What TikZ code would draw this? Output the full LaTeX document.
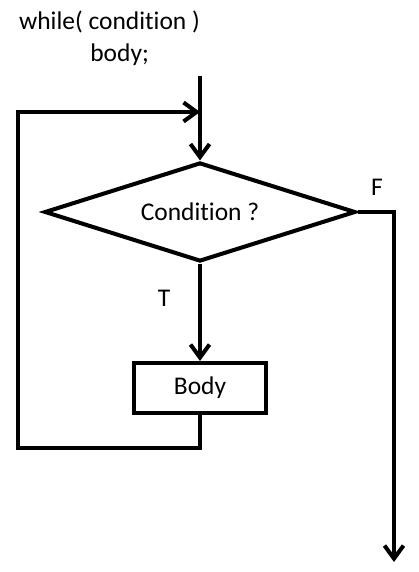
\documentclass[tikz,border=0pt]{standalone}
\usepackage{fontspec}
\setmainfont{Carlito}[Ligatures=NoCommon]
\usetikzlibrary{arrows.meta,shapes.geometric,positioning}

\tikzset{
  flow/.style={line width=2.3pt,line join=miter},
  arr/.style={flow,-{Straight Barb[length=2.6mm,width=3.8mm]}},
  lbl/.style={inner sep=0pt,font=\fontsize{14.5}{17}\selectfont}
}

\begin{document}
\begin{tikzpicture}[x=1cm,y=1cm]
  \useasboundingbox (0,0) rectangle (8.38,11.44);
  \node[lbl] (code1) at (2.19,11.0) {while( condition )};
  \node[lbl,anchor=west] (code2) at (1.80,10.34) {body;};

  \coordinate (start) at (4.0,9.92);
  \coordinate (join) at (4.0,9.2);
  \node[flow,draw,diamond,aspect=3.14,minimum width=6.22cm,minimum height=1.98cm,inner sep=0pt,lbl] (cond) at (4.0,7.20) {Condition ?};
  \node[flow,draw,rectangle,minimum width=2.64cm,minimum height=1.0cm,lbl] (body) at (4.0,3.68) {Body};
  \coordinate (back) at (0.36,2.48);
  \coordinate (out) at (7.88,0.2);

  \node[lbl] (tlab) at (3.28,5.48) {T};
  \node[lbl] (flab) at (7.54,7.70) {F};

  \draw[arr] (start) -- (cond.north);
  \draw[arr] (cond.south) -- (body.north);
  \draw[arr] (body.south) |- (back) |- (join);
  \draw[arr] (cond.east) -| (out);
\end{tikzpicture}
\end{document}
